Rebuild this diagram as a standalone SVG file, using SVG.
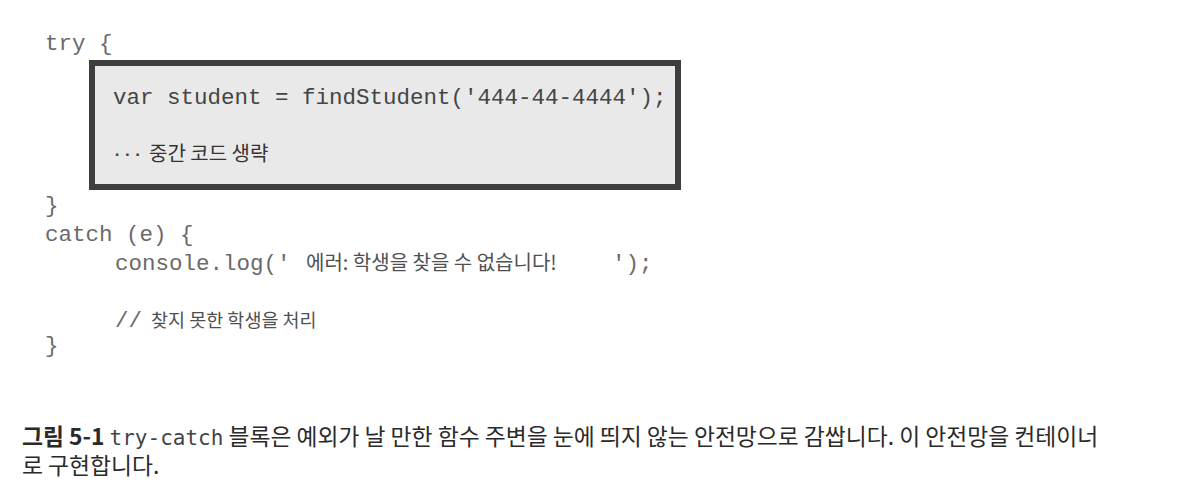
<svg xmlns="http://www.w3.org/2000/svg" width="1189" height="486" viewBox="0 0 1189 486">
<style>
.code{font-family:"Liberation Mono","Noto Sans CJK KR",monospace;font-size:22.5px;fill:#6a6a6a}
.icode{font-family:"Liberation Mono","Noto Sans CJK KR",monospace;font-size:22.5px;fill:#454545}
.ko{font-family:"Noto Sans CJK KR","Noto Sans",sans-serif;font-size:20px;fill:#505050}
.iko{font-family:"Noto Sans CJK KR","Noto Sans",sans-serif;font-size:20px;fill:#333}
.cap{font-family:"Noto Sans CJK KR","Noto Sans",sans-serif;font-size:22.8px;fill:#2a2a2a}
.capb{font-weight:bold}
.capm{font-family:"DejaVu Sans Mono","Noto Sans CJK KR",monospace;font-size:21px;fill:#444}
</style>
<rect width="1189" height="486" fill="#ffffff"/>
<g id="try-open">
<text class="code" x="45" y="50">try {</text>
</g>
<g id="try-block">
<rect x="92" y="63" width="586" height="124" fill="#e9e9e9" stroke="#3e3e3e" stroke-width="6"/>
<text class="icode" x="113" y="104">var student = findStudent('444-44-4444');</text>
<text class="icode" x="112" y="159" style="font-size:17px;font-weight:bold">···</text>
<text class="iko" x="149" y="161">중간 코드 생략</text>
</g>
<g id="catch-block">
<text class="code" x="45" y="212">}</text>
<text class="code" x="45" y="241">catch (e) {</text>
<text class="code" x="115" y="270">console.log('</text>
<text class="ko" x="306" y="270">에러: 학생을 찾을 수 없습니다!</text>
<text class="code" x="612" y="270">');</text>
<text class="code" x="115" y="327">//</text>
<text class="ko" x="151" y="327" style="font-size:18.5px">찾지 못한 학생을 처리</text>
<text class="code" x="45" y="352">}</text>
</g>
<g id="caption">
<text class="cap" x="22" y="445"><tspan class="capb">그림 5-1</tspan> <tspan class="capm">try-catch</tspan> 블록은 예외가 날 만한 함수 주변을 눈에 띄지 않는 안전망으로 감쌉니다. 이 안전망을 컨테이너<tspan x="22" dy="29">로 구현합니다.</tspan></text>
</g>
<g id="connectors"></g>
</svg>
